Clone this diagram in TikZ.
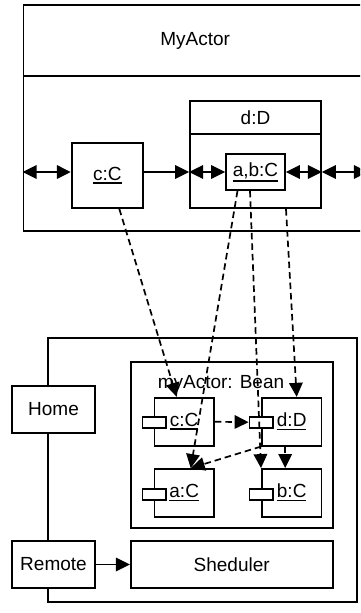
\documentclass[tikz,border=0pt]{standalone}
\usepackage{fontspec}
\setmainfont{Liberation Sans}
\usetikzlibrary{arrows.meta,calc}
\newcommand{\uln}[1]{\leavevmode\vtop{\hbox{#1}\kern1.6pt\hrule height 1.6pt}}
\begin{document}
\begin{tikzpicture}[x=1pt,y=-1pt,
  every node/.style={font=\fontsize{19}{23}\selectfont, inner sep=0pt},
  box/.style={draw, line width=1.7pt, rectangle, fill=white},
  port/.style={draw, line width=1.7pt, rectangle, fill=white, minimum width=23.7pt, minimum height=11pt},
  conn/.style={line width=1.7pt, -{Triangle[length=14pt,width=13.5pt]}},
  bconn/.style={line width=1.7pt, {Triangle[length=14pt,width=13.5pt]}-{Triangle[length=14pt,width=13.5pt]}},
  dconn/.style={conn, dash pattern=on 6.5pt off 4pt}]
\useasboundingbox (0,0) rectangle (360,613);
\clip (0,0) rectangle (360,613);
\fill[white] (0,0) rectangle (360,613);

% upper: MyActor
\node[box, minimum width=343.7pt, minimum height=226pt] (MyActor) at (195.2,118) {};
\draw[line width=1.7pt] (MyActor.west |- 0,76) -- (MyActor.east |- 0,76);
\node (MyActorT) at (195.2,41) {MyActor};

\node[box, minimum width=71.3pt, minimum height=65pt] (cC) at (107.3,175.5) {\uln{c:C}};
\node[box, minimum width=131pt, minimum height=107.6pt] (dD) at (255.5,154.5) {};
\draw[line width=1.7pt] (dD.west |- 0,134) -- (dD.east |- 0,134);
\node (dDT) at (255.5,118) {d:D};
\node[box, minimum width=59pt, minimum height=36pt] (abC) at (255.5,172) {\uln{a,b:C}};

\draw[bconn] (cC.west |- abC.center) -- (MyActor.west |- abC.center);
\draw[conn] (cC.east |- abC.center) -- (dD.west |- abC.center);
\draw[bconn] (dD.west |- abC.center) -- (abC.west);
\draw[bconn] (abC.east) -- (dD.east |- abC.center);
\draw[bconn] (dD.east |- abC.center) -- (MyActor.east |- abC.center);

% lower
\node[box, minimum width=309pt, minimum height=263.7pt] (outer) at (202.2,469.8) {};
\node[box, minimum width=83pt, minimum height=47.6pt] (Home) at (53.5,409.5) {Home};
\node[box, minimum width=83pt, minimum height=47.6pt] (Remote) at (53.5,564.5) {Remote};
\node[box, minimum width=202pt, minimum height=47.6pt] (Sheduler) at (231.7,564.5) {Sheduler};
\draw[conn] (Remote.east) -- (Sheduler.west);

\node[box, minimum width=202pt, minimum height=166pt] (Bean) at (231.7,445.3) {};
\node[box, minimum width=59.7pt, minimum height=48pt] (icC) at (184.2,421.7) {\uln{c:C}};
\node[box, minimum width=59.7pt, minimum height=48pt] (idD) at (291.7,421.7) {\uln{d:D}};
\node[box, minimum width=59.7pt, minimum height=47.7pt] (iaC) at (184.2,492.8) {\uln{a:C}};
\node[box, minimum width=59.7pt, minimum height=47.7pt] (ibC) at (291.7,492.8) {\uln{b:C}};
\node[port] (pcC) at (154.2,422.2) {};
\node[port] (pdD) at (261.3,422.2) {};
\node[port] (paC) at (154.2,494.3) {};
\node[port] (pbC) at (261.3,494.3) {};
\node (BeanT) at (221,384) {myActor: Bean};

% dashed connectors
\draw[dconn] ([xshift=12pt]cC.south) -- ([xshift=-7.5pt]icC.north);
\draw[dconn] ([xshift=-18pt]abC.south) -- ([xshift=6.5pt]iaC.north);
\draw[dconn] ([xshift=-5.5pt]abC.south) -- (ibC.north west);
\draw[dconn] ([xshift=30.5pt]dD.south) -- ([xshift=5pt]idD.north);
\draw[dconn] (icC.east) -- (pdD.west);
\draw[dconn] (idD.south west) -- ([xshift=6.5pt]iaC.north);
\draw[dconn] ([xshift=-6.5pt]idD.south) -- ([xshift=-6.5pt]ibC.north);
\end{tikzpicture}
\end{document}
